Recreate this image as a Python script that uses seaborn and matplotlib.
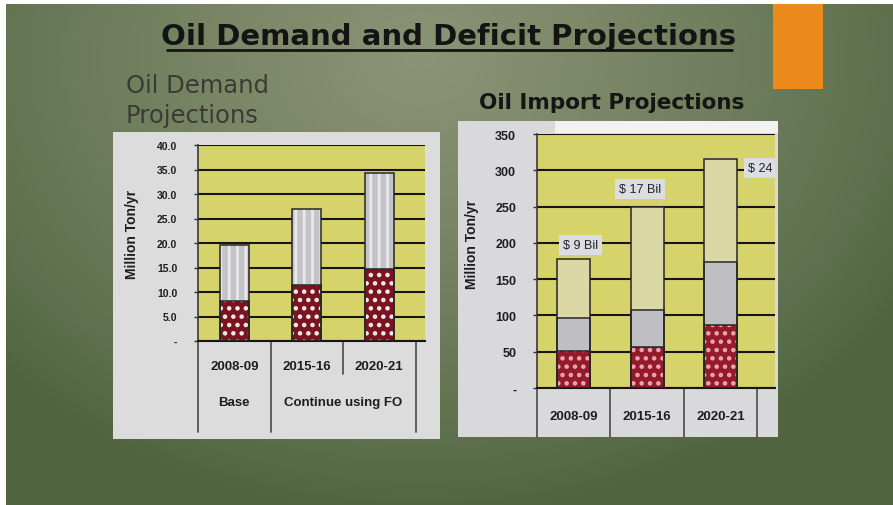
import numpy as np
import matplotlib.pyplot as plt
from matplotlib.patches import Rectangle
import seaborn as sns

# datos
years = ['2008-09', '2015-16', '2020-21']
scenario_labels = ['Base', 'Continue using FO']

demand_fo = [8.1, 11.4, 14.7]        # segmento rojo
demand_total = [19.5, 27.0, 34.3]    # total de la barra

import_red = [51, 56, 87]
import_mid = [97, 108, 174]
import_total = [178, 249, 315]
import_cost = ['$ 9 Bil', '$ 17 Bil', '$ 24 Bil']

demand_ticks = np.arange(0, 41, 5)
import_ticks = np.arange(0, 351, 50)

# posicion de las etiquetas de costo (x relativo a la barra, y en Million Ton/yr)
cost_label_pos = [(0.09, 197), (-0.10, 274), (0.66, 303)]

W, H = 893, 506

sns.set_theme(style='white')
plt.rcParams['font.family'] = ['Liberation Sans', 'DejaVu Sans']
plt.rcParams['hatch.linewidth'] = 2.0

fig = plt.figure(figsize=(W / 100, H / 100), dpi=100, facecolor='white')

# fondo de la diapositiva
bg = fig.add_axes([6 / W, 0, 1 - 6 / W, 1 - 5 / H])
bg.set_xlim(6, W)
bg.set_ylim(H, 5)
bg.axis('off')

yy, xx = np.mgrid[5:H, 6:W]
r = np.sqrt(((xx - 420) / 560) ** 2 + ((yy - 60) / 450) ** 2)
t = np.clip(1 - r, 0, 1) ** 0.8
c_edge = np.array([0x50, 0x65, 0x40]) / 255
c_mid = np.array([0x8c, 0x94, 0x76]) / 255
img = c_edge + (c_mid - c_edge) * t[..., None]
bg.imshow(img, extent=(6, W, H, 5), aspect='auto', zorder=0)

bg.add_patch(Rectangle((113, 133), 327, 307, fc='#dcdcdc', ec='none', zorder=1))
bg.add_patch(Rectangle((458, 122), 320, 316, fc='#d9d9dc', ec='none', zorder=1))
bg.add_patch(Rectangle((555, 122), 223, 12, fc='#f2f2f2', ec='none', zorder=1))
bg.add_patch(Rectangle((773, 5), 50, 85, fc='#ec8a1c', ec='none', zorder=1))

bg.text(449, 45, 'Oil Demand and Deficit Projections', ha='center', va='baseline',
        fontsize=21, fontweight='bold', family='DejaVu Sans', color='#141414', zorder=2)
bg.plot([167, 732], [51, 51], color='#141414', lw=2, zorder=2)
bg.text(126, 93, 'Oil Demand', ha='left', va='baseline', fontsize=17.5,
        family='DejaVu Sans', color='#3a3b34', zorder=2)
bg.text(126, 123, 'Projections', ha='left', va='baseline', fontsize=17.5,
        family='DejaVu Sans', color='#3a3b34', zorder=2)
bg.text(612, 109, 'Oil Import Projections', ha='center', va='baseline', fontsize=15.5,
        fontweight='bold', family='DejaVu Sans', color='#151515', zorder=2)

ax1 = fig.add_axes([198 / W, 1 - 342 / H, 227 / W, 196 / H])
ax2 = fig.add_axes([537 / W, 1 - 389 / H, 238 / W, 254 / H])


def capa(ax, valores, cara, color_trama, trama, ancho):
    n0 = len(ax.patches)
    sns.barplot(x=years, y=valores, color=cara, saturation=1, width=ancho,
                errorbar=None, ax=ax, linewidth=0)
    for p in list(ax.patches)[n0:]:
        p.set_hatch(trama)
        p.set_edgecolor(color_trama)
        p.set_linewidth(0)
        p.set_zorder(2)
        ax.add_patch(Rectangle(p.get_xy(), p.get_width(), p.get_height(),
                               fill=False, ec='#262626', lw=1.1, zorder=3))


# grafico izquierdo: demanda
capa(ax1, demand_total, '#c4c4c8', '#e8e8ec', '||', 0.4)
capa(ax1, demand_fo, '#7c1420', '#f4eef0', '..', 0.4)

# grafico derecho: importaciones
capa(ax2, import_total, '#dcd8a6', '#dcd8a6', '', 0.45)
capa(ax2, import_mid, '#bebec3', '#cacace', '', 0.45)
capa(ax2, import_red, '#961a2a', '#e6aab4', '..', 0.45)

for ax, ticks, fmt, xmax, tsize, xpad in [(ax1, demand_ticks, '{:.1f}', 2.63, 7.5, 14),
                                          (ax2, import_ticks, '{:d}', 2.74, 9, 16)]:
    ax.set_facecolor('#d7d36b')
    ax.set_axisbelow(True)
    ax.yaxis.grid(True, color='#151515', lw=1.5)
    ax.xaxis.grid(False)
    ax.set_ylim(0, ticks[-1])
    ax.set_xlim(-0.5, xmax)
    ax.set_yticks(ticks)
    ax.set_yticklabels(['-'] + [fmt.format(int(v)) if fmt == '{:d}' else fmt.format(v)
                                for v in ticks[1:]])
    ax.tick_params(axis='y', length=3, width=1, color='#333', pad=12,
                   labelsize=tsize, labelcolor='#1e1e1e', left=True)
    for lab in ax.get_yticklabels():
        lab.set_fontweight('bold')
    ax.set_xticks(range(len(years)))
    ax.set_xticklabels(years, fontsize=9.5, fontweight='bold', color='#1e1e1e')
    ax.tick_params(axis='x', length=0, pad=xpad)
    ax.set_xlabel('')
    for s in ['top', 'right']:
        ax.spines[s].set_visible(False)
    ax.spines['left'].set_color('#3a3a3a')
    ax.spines['left'].set_linewidth(1.2)
    ax.spines['bottom'].set_color('#151515')
    ax.spines['bottom'].set_linewidth(1.5)
    ax.set_ylabel('Million Ton/yr', fontsize=10, fontweight='bold', color='#1e1e1e')

ax1.yaxis.set_label_coords(-0.26, 0.55)
ax2.yaxis.set_label_coords(-0.245, 0.57)

# separadores de categorias bajo el eje x
tr1 = ax1.get_xaxis_transform()
for xs, y0 in [(-0.5, -0.464), (0.5, -0.464), (1.5, -0.17), (2.5, -0.464)]:
    ax1.plot([xs, xs], [0, y0], color='#555555', lw=1.3, transform=tr1, clip_on=False)
ax1.text(0, -0.31, scenario_labels[0], transform=tr1, ha='center', va='center',
         fontsize=9.5, fontweight='bold', color='#1e1e1e')
ax1.text(1.5, -0.31, scenario_labels[1], transform=tr1, ha='center', va='center',
         fontsize=9.5, fontweight='bold', color='#1e1e1e')

tr2 = ax2.get_xaxis_transform()
for xs in [-0.5, 0.5, 1.5, 2.5]:
    ax2.plot([xs, xs], [0, -0.193], color='#555555', lw=1.3, transform=tr2, clip_on=False)

for i, (lab, (dx, yv)) in enumerate(zip(import_cost, cost_label_pos)):
    ax2.text(i + dx, yv, lab, ha='center', va='center', fontsize=9, color='#222',
             zorder=5, clip_on=True,
             bbox=dict(boxstyle='square,pad=0.3', fc='#dcdce4', ec='none'))

fig.savefig('out.png', dpi=100, facecolor=fig.get_facecolor())
